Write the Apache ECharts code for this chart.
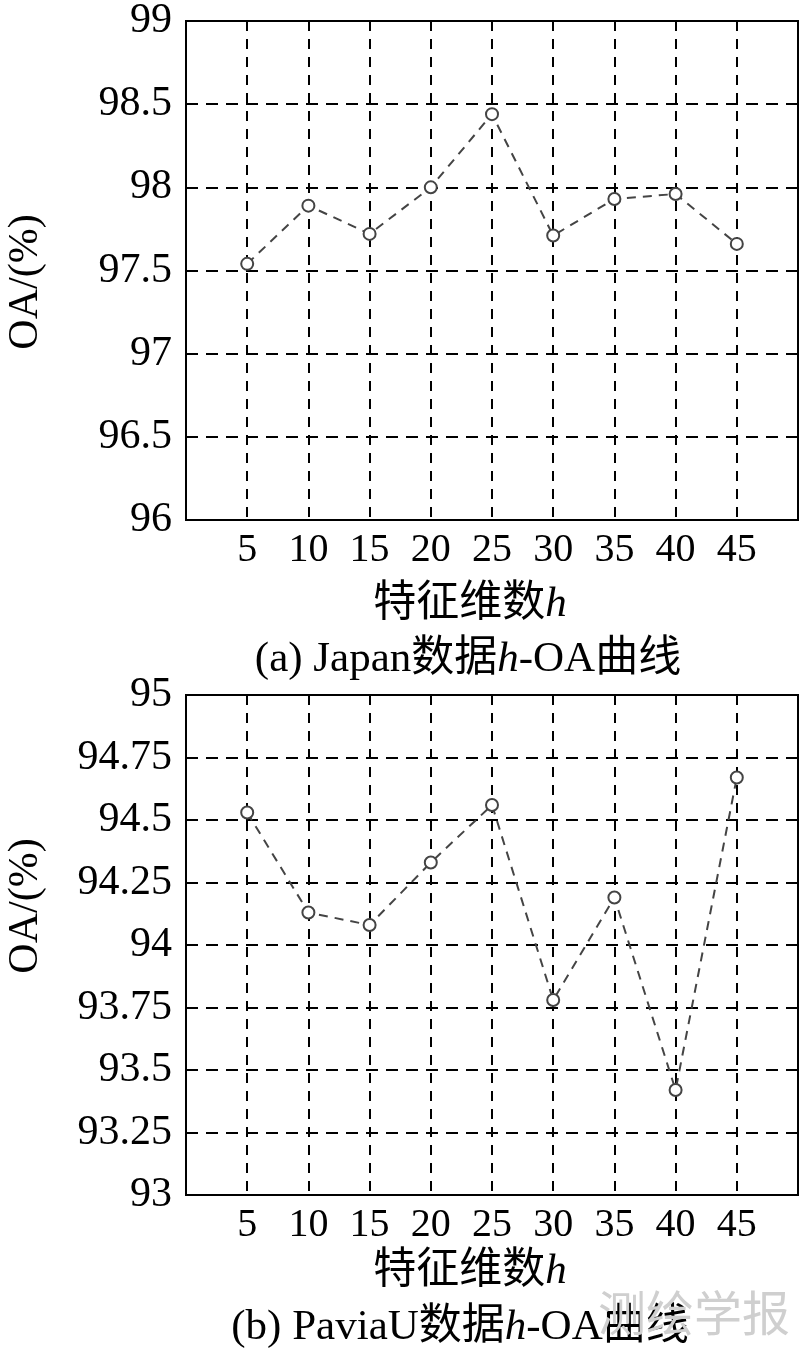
<!DOCTYPE html>
<html>
<head>
<meta charset="utf-8">
<script src="https://cdn.jsdelivr.net/npm/echarts@6/dist/echarts.min.js"></script>
<style>
  html, body { margin: 0; padding: 0; background: #fff; }
  #main { width: 800px; height: 1356px; }
</style>
</head>
<body>
<div id="main"></div>
<script>
// 特征维数 h
const hDims = [5, 10, 15, 20, 25, 30, 35, 40, 45];
// (a) Japan 数据 OA
const japanOA = [97.54, 97.89, 97.72, 98.0, 98.44, 97.71, 97.93, 97.96, 97.66];
// (b) PaviaU 数据 OA
const paviaOA = [94.53, 94.13, 94.08, 94.33, 94.56, 93.78, 94.19, 93.42, 94.67];

const serif = '"Liberation Serif", "Times New Roman", "Noto Sans CJK SC", serif';
const cjk = '"Liberation Serif", "Noto Sans CJK SC", serif';

function pairs(ys) {
  return hDims.map((h, i) => [h, ys[i]]);
}

function xAxisOf(gridIndex) {
  return {
    gridIndex,
    type: 'value',
    min: 0,
    max: 50,
    interval: 5,
    axisLine: { lineStyle: { color: '#000', width: 2 } },
    axisTick: { show: false },
    axisLabel: {
      color: '#000',
      fontFamily: serif,
      fontSize: 40,
      margin: 10,
      showMinLabel: false,
      showMaxLabel: false,
      formatter: v => (v === 0 || v === 50 ? '' : v)
    },
    splitLine: { show: true, lineStyle: { color: '#000', width: 2, type: [10, 8] } }
  };
}

function yAxisOf(gridIndex, min, max, interval) {
  return {
    gridIndex,
    type: 'value',
    min,
    max,
    interval,
    axisLine: { show: true, lineStyle: { color: '#000', width: 2 } },
    axisTick: { show: false },
    axisLabel: { color: '#000', fontFamily: serif, fontSize: 42, margin: 14 },
    splitLine: { show: true, lineStyle: { color: '#000', width: 2, type: [12, 8] } }
  };
}

function lineSeries(idx, ys) {
  return {
    type: 'line',
    xAxisIndex: idx,
    yAxisIndex: idx,
    data: pairs(ys),
    symbol: 'emptyCircle',
    symbolSize: 12,
    itemStyle: { color: '#444', borderColor: '#444', borderWidth: 2 },
    lineStyle: { color: '#444', width: 2, type: [9, 7] },
    z: 5
  };
}

function txt(x, y, text, size, extra) {
  return Object.assign({
    type: 'text',
    x, y,
    style: {
      text,
      fill: '#000',
      fontFamily: cjk,
      fontSize: size,
      align: 'center',
      verticalAlign: 'middle',
      rich: {
        i: { fontStyle: 'italic', fontFamily: serif, fontSize: size, fill: '#000' }
      }
    }
  }, extra || {});
}

const chart = echarts.init(document.getElementById('main'), null, { renderer: 'canvas' });

chart.setOption({
  animation: false,
  backgroundColor: '#fff',
  grid: [
    { left: 186, top: 20, width: 612, height: 500, show: true, borderColor: '#000', borderWidth: 2 },
    { left: 186, top: 695, width: 612, height: 500, show: true, borderColor: '#000', borderWidth: 2 }
  ],
  xAxis: [xAxisOf(0), xAxisOf(1)],
  yAxis: [yAxisOf(0, 96, 99, 0.5), yAxisOf(1, 93, 95, 0.25)],
  series: [lineSeries(0, japanOA), lineSeries(1, paviaOA)],
  graphic: [
    txt(26, 282, 'OA/(%)', 42, { rotation: Math.PI / 2 }),
    txt(26, 906, 'OA/(%)', 42, { rotation: Math.PI / 2 }),
    txt(470, 605, '特征维数{i|h}', 43),
    txt(468, 660, '(a) Japan数据{i|h}-OA曲线', 43),
    txt(470, 1272, '特征维数{i|h}', 43),
    txt(460, 1328, '(b) PaviaU数据{i|h}-OA曲线', 43),
    {
      type: 'text',
      x: 694, y: 1313,
      style: {
        text: '测绘学报',
        fill: '#cfcfcf',
        fontFamily: '"Noto Sans CJK SC", sans-serif',
        fontSize: 48,
        align: 'center',
        verticalAlign: 'middle'
      },
      z: 0
    }
  ]
});
</script>
</body>
</html>
